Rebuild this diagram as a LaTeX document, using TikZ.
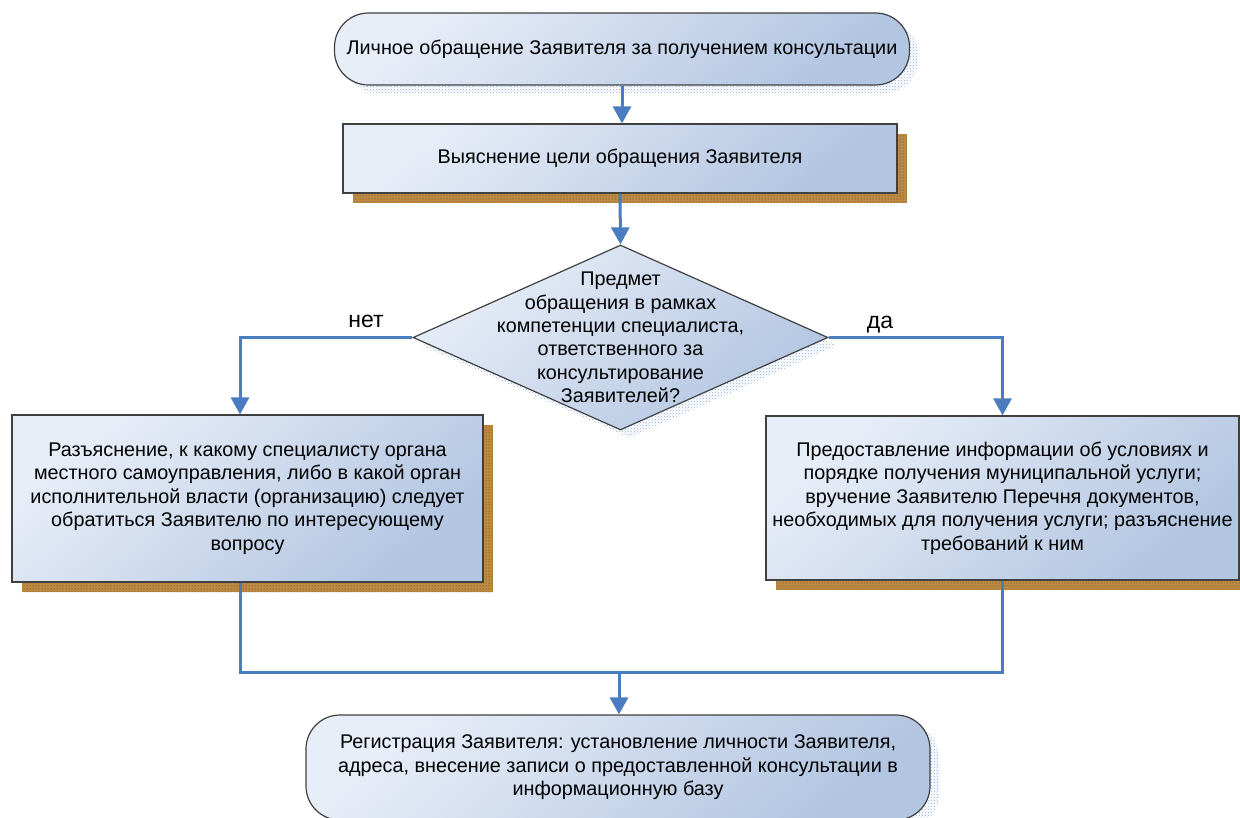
\documentclass[tikz,border=0pt]{standalone}
\usepackage{fontspec}
\setmainfont{Liberation Sans}
\usetikzlibrary{arrows.meta,shapes.geometric,shadows,patterns,calc}
\definecolor{flight}{HTML}{E8EEF8}
\definecolor{fdark}{HTML}{B2C5E1}
\definecolor{edge}{HTML}{404040}
\definecolor{conncol}{HTML}{4A7CC0}
\definecolor{shbrown}{HTML}{BE8A42}
\definecolor{shdot}{HTML}{4A4530}
\definecolor{shblue}{HTML}{8AABDD}
\tikzset{
  base/.style={draw=edge, line width=1.2pt, top color=flight, bottom color=fdark, shading angle=40,
    font=\fontsize{19.8}{23.5}\selectfont, align=center, inner sep=0pt},
  brshadow/.style={general shadow={fill=shbrown, shadow xshift=10pt, shadow yshift=-10pt},
    general shadow={pattern=dots, pattern color=shdot, shadow xshift=10pt, shadow yshift=-10pt}},
  blshadow/.style={general shadow={pattern=crosshatch dots, pattern color=shblue, shadow xshift=9pt, shadow yshift=-8pt}},
  termbox/.style={base, rectangle, rounded corners=34pt, blshadow},
  procbox/.style={base, rectangle, brshadow},
  decbox/.style={base, diamond, blshadow},
  conn/.style={draw=conncol, line width=3pt},
  arr/.style={conn, -{Triangle[width=18pt,length=17pt]}},
  lbl/.style={font=\fontsize{23}{26}\selectfont}
}
\begin{document}
\begin{tikzpicture}[x=1pt,y=-1pt]
\useasboundingbox (0,0) rectangle (1240,817);
\clip (0,0) rectangle (1240,817);
\node[termbox, minimum width=575pt, minimum height=72pt] (tt) at (622,49)
  {Личное обращение Заявителя за получением консультации};
\node[procbox, minimum width=554pt, minimum height=69pt] (b2) at (620,158.5)
  {Выяснение цели обращения Заявителя};
\node[decbox, minimum width=415pt, minimum height=185pt,
  label={[font=\fontsize{19.8}{23.3}\selectfont, align=center]center:Предмет\\обращения в рамках\\компетенции специалиста,\\ответственного за\\консультирование\\Заявителей?}] (d) at (620.5,337.5) {};
\node[procbox, minimum width=471pt, minimum height=167pt] (lb) at (247.5,498.5)
  {Разъяснение, к какому специалисту органа\\местного самоуправления, либо в какой орган\\исполнительной власти (организацию) следует\\обратиться Заявителю по интересующему\\вопросу};
\node[procbox, minimum width=473pt, minimum height=164pt] (rb) at (1002.5,498)
  {Предоставление информации об условиях и\\порядке получения муниципальной услуги;\\вручение Заявителю Перечня документов,\\необходимых для получения услуги; разъяснение\\требований к ним};
\node[termbox, minimum width=624pt, minimum height=105pt] (bt) at (618,767.5)
  {Регистрация Заявителя: установление личности Заявителя,\\адреса, внесение записи о предоставленной консультации в\\информационную базу};
\coordinate (lx) at (240,0);
\coordinate (j) at (619,672);
\draw[arr] (tt.south) -- (tt.south |- b2.north);
\draw[arr] (b2.south) -- (d.north);
\draw[arr] (d.west) -| (lx |- lb.north);
\draw[arr] (d.east) -| (rb.north);
\draw[conn] (lx |- lb.south) |- (j) -| (rb.south);
\draw[arr] (j) -- (j |- bt.north);
\node[lbl] (no) at (366,321) {нет};
\node[lbl] (yes) at (880,325) {да};
\end{tikzpicture}
\end{document}
